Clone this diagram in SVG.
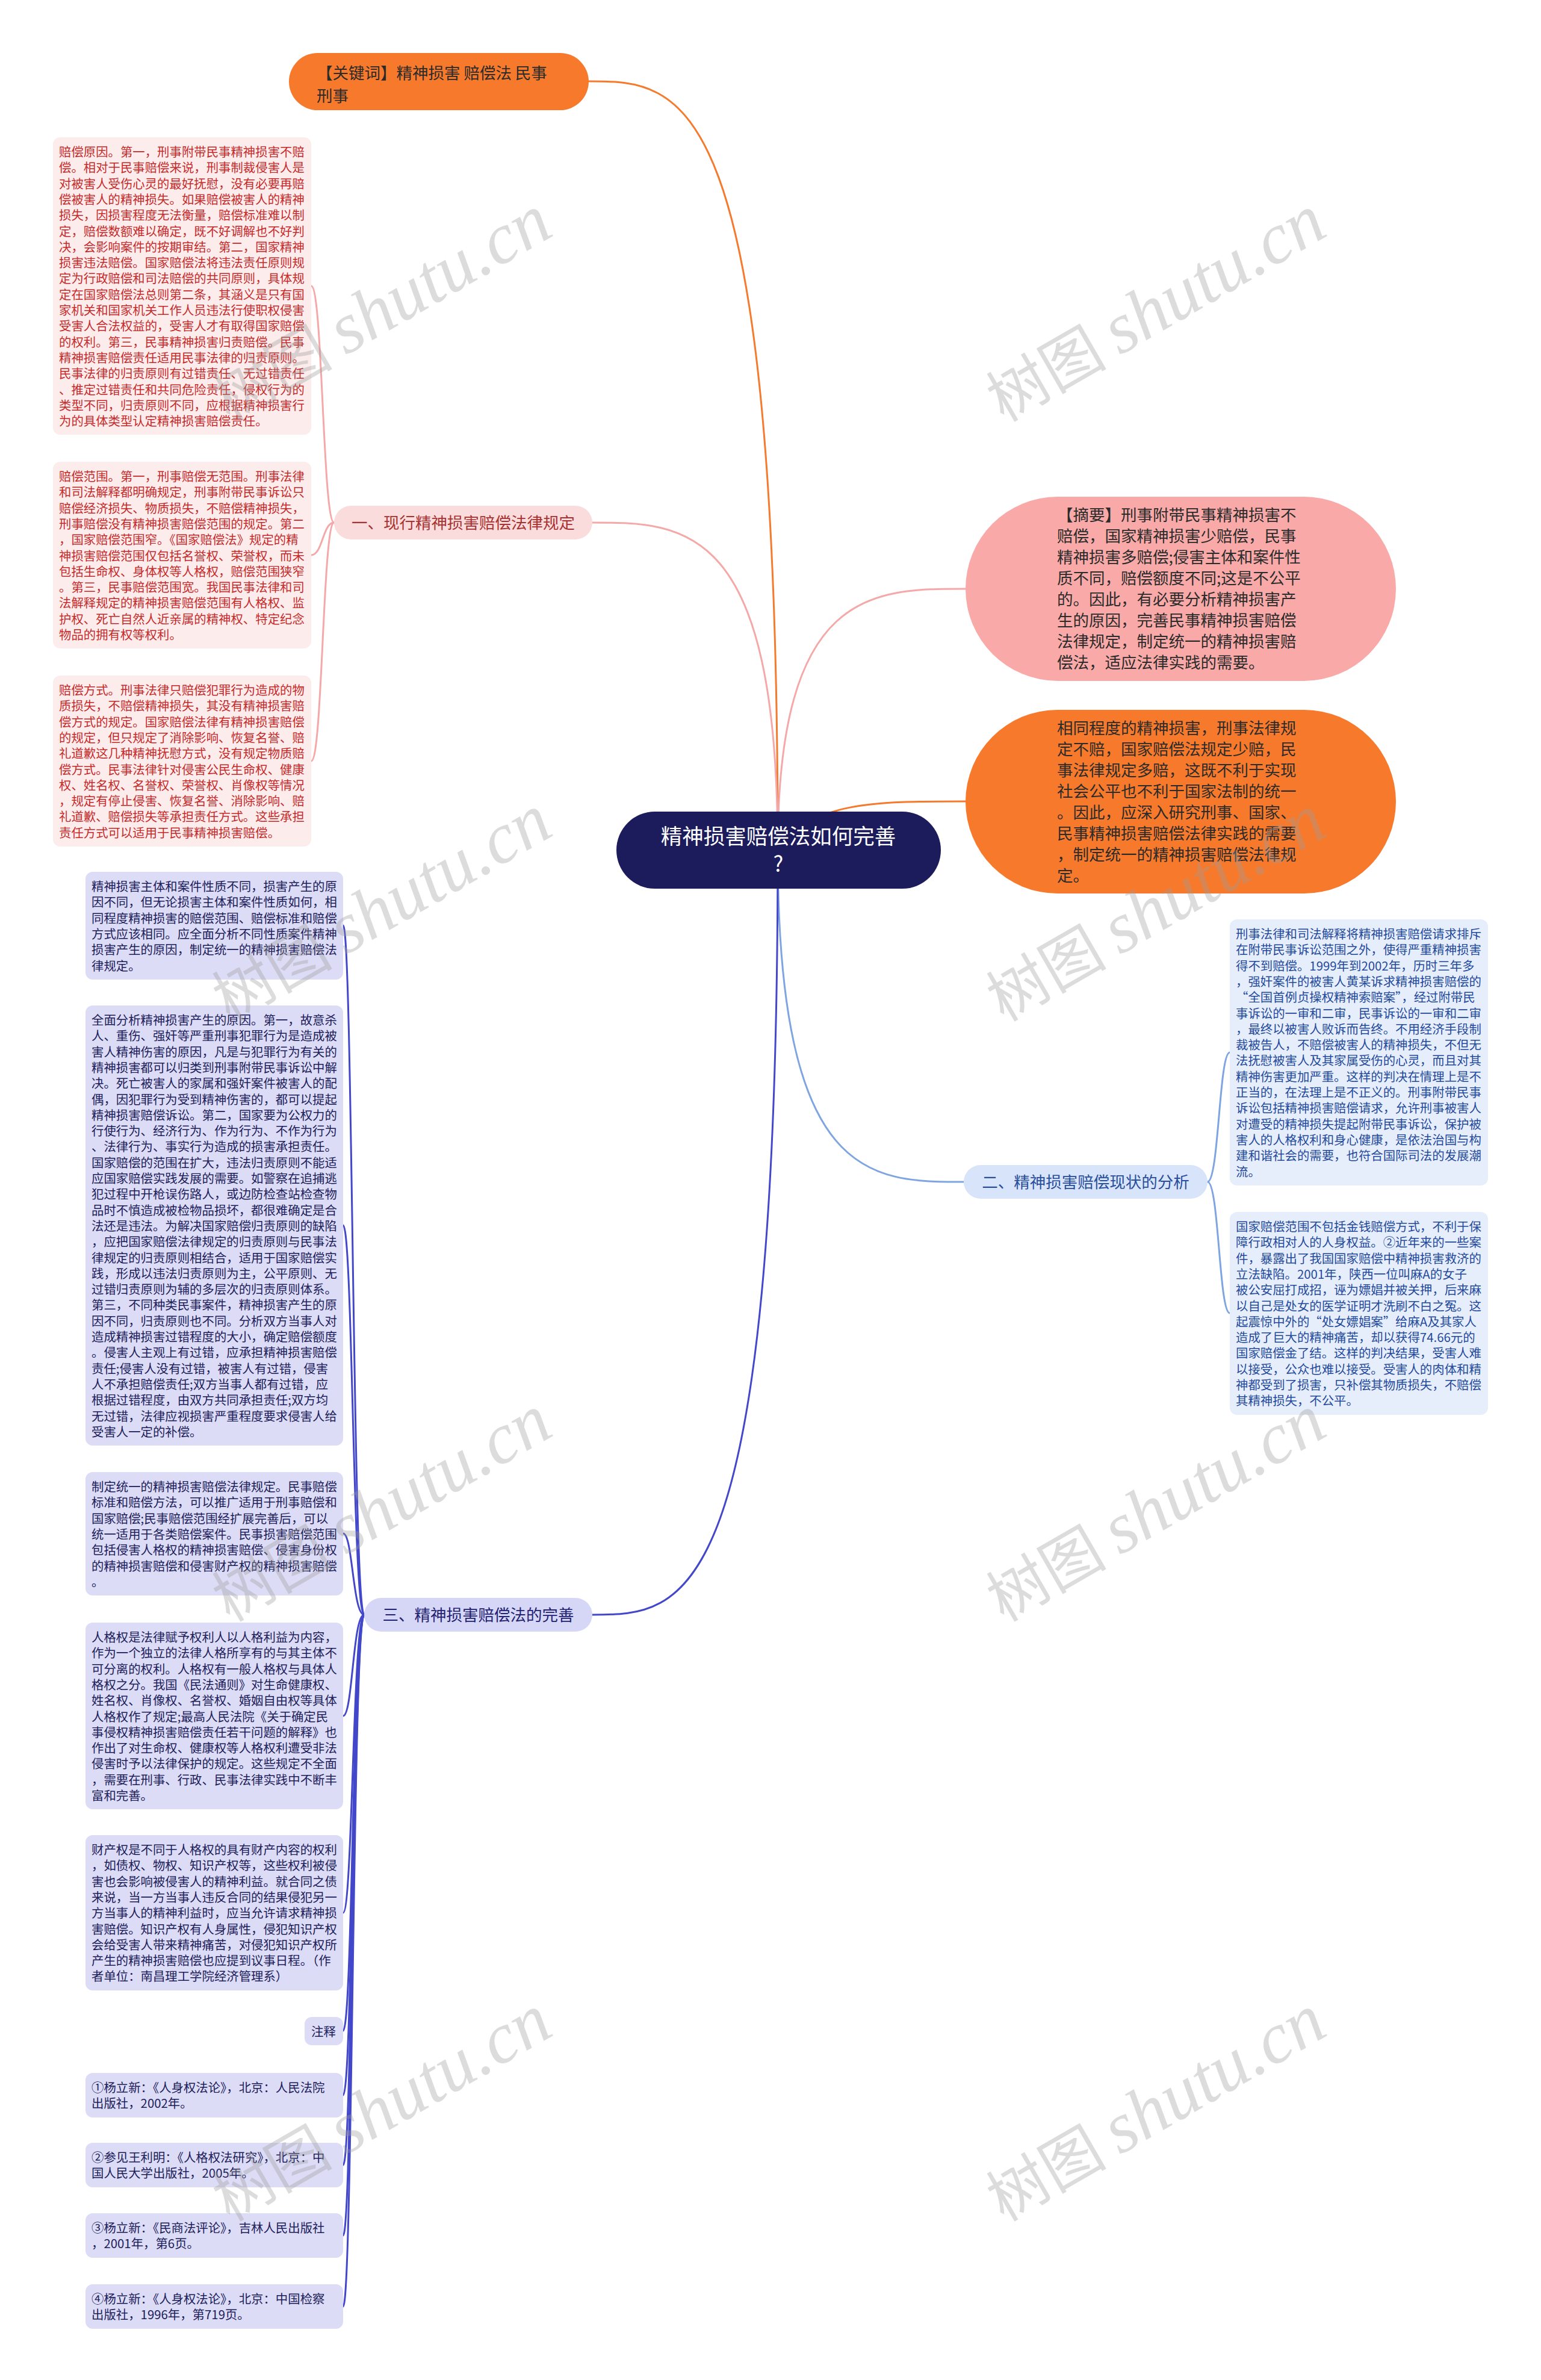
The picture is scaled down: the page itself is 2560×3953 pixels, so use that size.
<svg xmlns="http://www.w3.org/2000/svg" width="2560" height="3953" viewBox="0 0 2560 3953">
<style>
text{font-family:"Noto Sans CJK SC","Noto Sans",sans-serif}
.big{font-size:26.5px;fill:#2b2b2b}
.ctr{font-size:35.5px;fill:#ffffff;text-anchor:middle}
.b1t{font-size:26.5px;fill:#a83232;text-anchor:middle}
.b2t{font-size:26.5px;fill:#2a4f9a;text-anchor:middle}
.b3t{font-size:26.5px;fill:#232372;text-anchor:middle}
.l1{font-size:20.4px;fill:#c62b2b}
.l2{font-size:20.4px;fill:#244a9c}
.l3{font-size:20.4px;fill:#20205a}
.bx1{fill:#fcecec}
.bx2{fill:#e7eefb}
.bx3{fill:#dcdcf6}
.c{fill:none;stroke-width:3;stroke-linecap:round}
.wm{font-size:100px;fill:#9a9a9a;fill-opacity:0.35}
.wl{font-family:"Liberation Serif",serif;font-style:italic;font-size:120px}
</style>
<rect x="0" y="0" width="2560" height="3953" fill="#ffffff"/>

<g id="connectors">
<path class="c" stroke="#f47a2d" d="M1292 1412 C1292 135 1135 135 978 135"/>
<path class="c" stroke="#f4a8a8" d="M1292 1412 C1292 868 1138 868 984 868"/>
<path class="c" stroke="#f4a8a8" d="M1292 1412 C1292 978 1448 978 1604 978"/>
<path class="c" stroke="#f47a2d" d="M1292 1412 C1350 1331 1450 1331 1604 1331"/>
<path class="c" stroke="#7ea5e2" d="M1292 1412 C1292 1963 1446 1963 1601 1963"/>
<path class="c" stroke="#4347c9" d="M1292 1412 C1292 2682 1138 2682 984 2682"/>
<path class="c" stroke="#f4a8a8" d="M555 868 C536 868 536 475 517 475"/>
<path class="c" stroke="#f4a8a8" d="M555 868 C536 868 536 922 517 922"/>
<path class="c" stroke="#f4a8a8" d="M555 868 C536 868 536 1264 517 1264"/>
<path class="c" stroke="#7ea5e2" d="M2006 1963 C2025 1963 2025 1748 2043 1748"/>
<path class="c" stroke="#7ea5e2" d="M2006 1963 C2025 1963 2025 2181 2043 2181"/>
<path class="c" stroke="#4347c9" d="M605 2682 C586 2682 586 1537 570 1537"/>
<path class="c" stroke="#4347c9" d="M605 2682 C586 2682 586 2035 570 2035"/>
<path class="c" stroke="#4347c9" d="M605 2682 C586 2682 586 2547 570 2547"/>
<path class="c" stroke="#4347c9" d="M605 2682 C586 2682 586 2850 570 2850"/>
<path class="c" stroke="#4347c9" d="M605 2682 C586 2682 586 3177 570 3177"/>
<path class="c" stroke="#4347c9" d="M605 2682 C586 2682 586 3373 570 3373"/>
<path class="c" stroke="#4347c9" d="M605 2682 C586 2682 586 3480 570 3480"/>
<path class="c" stroke="#4347c9" d="M605 2682 C586 2682 586 3596 570 3596"/>
<path class="c" stroke="#4347c9" d="M605 2682 C586 2682 586 3713 570 3713"/>
<path class="c" stroke="#4347c9" d="M605 2682 C586 2682 586 3831 570 3831"/>
</g>

<g id="center">
<rect x="1024" y="1348" width="539" height="128" rx="64" fill="#1c1b5c"/>
<text class="ctr" x="1293" y="1402">精神损害赔偿法如何完善</text>
<text class="ctr" x="1293" y="1448">?</text>
</g>

<g id="keyword">
<rect x="480" y="88" width="498" height="95" rx="47.5" fill="#f77a2c"/>
<text class="big" x="526" y="131">【关键词】精神损害 赔偿法 民事</text>
<text class="big" x="526" y="169">刑事</text>
</g>

<g id="abstract">
<rect x="1604" y="825" width="715" height="306" rx="153" fill="#f9aaa8"/>
<text class="big" x="1756">
<tspan x="1756" y="865">【摘要】刑事附带民事精神损害不</tspan>
<tspan x="1756" y="900">赔偿，国家精神损害少赔偿，民事</tspan>
<tspan x="1756" y="935">精神损害多赔偿;侵害主体和案件性</tspan>
<tspan x="1756" y="970">质不同，赔偿额度不同;这是不公平</tspan>
<tspan x="1756" y="1005">的。因此，有必要分析精神损害产</tspan>
<tspan x="1756" y="1040">生的原因，完善民事精神损害赔偿</tspan>
<tspan x="1756" y="1075">法律规定，制定统一的精神损害赔</tspan>
<tspan x="1756" y="1110">偿法，适应法律实践的需要。</tspan>
</text>
</g>

<g id="summary">
<rect x="1604" y="1179" width="715" height="305" rx="152.5" fill="#f77a2c"/>
<text class="big" x="1756">
<tspan x="1756" y="1219">相同程度的精神损害，刑事法律规</tspan>
<tspan x="1756" y="1254">定不赔，国家赔偿法规定少赔，民</tspan>
<tspan x="1756" y="1289">事法律规定多赔，这既不利于实现</tspan>
<tspan x="1756" y="1324">社会公平也不利于国家法制的统一</tspan>
<tspan x="1756" y="1359">。因此，应深入研究刑事、国家、</tspan>
<tspan x="1756" y="1394">民事精神损害赔偿法律实践的需要</tspan>
<tspan x="1756" y="1429">，制定统一的精神损害赔偿法律规</tspan>
<tspan x="1756" y="1464">定。</tspan>
</text>
</g>

<g id="branch1">
<rect x="555" y="840" width="429" height="56" rx="28" fill="#fbdcdc"/>
<text class="b1t" x="769.5" y="878">一、现行精神损害赔偿法律规定</text>
</g>

<g id="leaf1-1">
<rect class="bx1" x="88" y="228" width="429" height="494" rx="12"/>
<text class="l1">
<tspan x="98" y="260">赔偿原因。第一，刑事附带民事精神损害不赔</tspan>
<tspan x="98" y="286.3">偿。相对于民事赔偿来说，刑事制裁侵害人是</tspan>
<tspan x="98" y="312.6">对被害人受伤心灵的最好抚慰，没有必要再赔</tspan>
<tspan x="98" y="338.9">偿被害人的精神损失。如果赔偿被害人的精神</tspan>
<tspan x="98" y="365.2">损失，因损害程度无法衡量，赔偿标准难以制</tspan>
<tspan x="98" y="391.5">定，赔偿数额难以确定，既不好调解也不好判</tspan>
<tspan x="98" y="417.8">决，会影响案件的按期审结。第二，国家精神</tspan>
<tspan x="98" y="444.1">损害违法赔偿。国家赔偿法将违法责任原则规</tspan>
<tspan x="98" y="470.4">定为行政赔偿和司法赔偿的共同原则，具体规</tspan>
<tspan x="98" y="496.7">定在国家赔偿法总则第二条，其涵义是只有国</tspan>
<tspan x="98" y="523">家机关和国家机关工作人员违法行使职权侵害</tspan>
<tspan x="98" y="549.3">受害人合法权益的，受害人才有取得国家赔偿</tspan>
<tspan x="98" y="575.6">的权利。第三，民事精神损害归责赔偿。民事</tspan>
<tspan x="98" y="601.9">精神损害赔偿责任适用民事法律的归责原则。</tspan>
<tspan x="98" y="628.2">民事法律的归责原则有过错责任、无过错责任</tspan>
<tspan x="98" y="654.5">、推定过错责任和共同危险责任，侵权行为的</tspan>
<tspan x="98" y="680.8">类型不同，归责原则不同，应根据精神损害行</tspan>
<tspan x="98" y="707.1">为的具体类型认定精神损害赔偿责任。</tspan>
</text>
</g>

<g id="leaf1-2">
<rect class="bx1" x="88" y="767" width="429" height="310" rx="12"/>
<text class="l1">
<tspan x="98" y="799">赔偿范围。第一，刑事赔偿无范围。刑事法律</tspan>
<tspan x="98" y="825.3">和司法解释都明确规定，刑事附带民事诉讼只</tspan>
<tspan x="98" y="851.6">赔偿经济损失、物质损失，不赔偿精神损失，</tspan>
<tspan x="98" y="877.9">刑事赔偿没有精神损害赔偿范围的规定。第二</tspan>
<tspan x="98" y="904.2">，国家赔偿范围窄。《国家赔偿法》规定的精</tspan>
<tspan x="98" y="930.5">神损害赔偿范围仅包括名誉权、荣誉权，而未</tspan>
<tspan x="98" y="956.8">包括生命权、身体权等人格权，赔偿范围狭窄</tspan>
<tspan x="98" y="983.1">。第三，民事赔偿范围宽。我国民事法律和司</tspan>
<tspan x="98" y="1009.4">法解释规定的精神损害赔偿范围有人格权、监</tspan>
<tspan x="98" y="1035.7">护权、死亡自然人近亲属的精神权、特定纪念</tspan>
<tspan x="98" y="1062">物品的拥有权等权利。</tspan>
</text>
</g>

<g id="leaf1-3">
<rect class="bx1" x="88" y="1122" width="429" height="284" rx="12"/>
<text class="l1">
<tspan x="98" y="1154">赔偿方式。刑事法律只赔偿犯罪行为造成的物</tspan>
<tspan x="98" y="1180.3">质损失，不赔偿精神损失，其没有精神损害赔</tspan>
<tspan x="98" y="1206.6">偿方式的规定。国家赔偿法律有精神损害赔偿</tspan>
<tspan x="98" y="1232.9">的规定，但只规定了消除影响、恢复名誉、赔</tspan>
<tspan x="98" y="1259.2">礼道歉这几种精神抚慰方式，没有规定物质赔</tspan>
<tspan x="98" y="1285.5">偿方式。民事法律针对侵害公民生命权、健康</tspan>
<tspan x="98" y="1311.8">权、姓名权、名誉权、荣誉权、肖像权等情况</tspan>
<tspan x="98" y="1338.1">，规定有停止侵害、恢复名誉、消除影响、赔</tspan>
<tspan x="98" y="1364.4">礼道歉、赔偿损失等承担责任方式。这些承担</tspan>
<tspan x="98" y="1390.7">责任方式可以适用于民事精神损害赔偿。</tspan>
</text>
</g>

<g id="branch2">
<rect x="1601" y="1935" width="405" height="56" rx="28" fill="#d8e4fa"/>
<text class="b2t" x="1803.5" y="1973">二、精神损害赔偿现状的分析</text>
</g>

<g id="leaf2-1">
<rect class="bx2" x="2043" y="1527" width="429" height="442" rx="12"/>
<text class="l2">
<tspan x="2053" y="1559">刑事法律和司法解释将精神损害赔偿请求排斥</tspan>
<tspan x="2053" y="1585.3">在附带民事诉讼范围之外，使得严重精神损害</tspan>
<tspan x="2053" y="1611.6">得不到赔偿。1999年到2002年，历时三年多</tspan>
<tspan x="2053" y="1637.9">，强奸案件的被害人黄某诉求精神损害赔偿的</tspan>
<tspan x="2053" y="1664.2">“全国首例贞操权精神索赔案”，经过附带民</tspan>
<tspan x="2053" y="1690.5">事诉讼的一审和二审，民事诉讼的一审和二审</tspan>
<tspan x="2053" y="1716.8">，最终以被害人败诉而告终。不用经济手段制</tspan>
<tspan x="2053" y="1743.1">裁被告人，不赔偿被害人的精神损失，不但无</tspan>
<tspan x="2053" y="1769.4">法抚慰被害人及其家属受伤的心灵，而且对其</tspan>
<tspan x="2053" y="1795.7">精神伤害更加严重。这样的判决在情理上是不</tspan>
<tspan x="2053" y="1822">正当的，在法理上是不正义的。刑事附带民事</tspan>
<tspan x="2053" y="1848.3">诉讼包括精神损害赔偿请求，允许刑事被害人</tspan>
<tspan x="2053" y="1874.6">对遭受的精神损失提起附带民事诉讼，保护被</tspan>
<tspan x="2053" y="1900.9">害人的人格权利和身心健康，是依法治国与构</tspan>
<tspan x="2053" y="1927.2">建和谐社会的需要，也符合国际司法的发展潮</tspan>
<tspan x="2053" y="1953.5">流。</tspan>
</text>
</g>

<g id="leaf2-2">
<rect class="bx2" x="2043" y="2013" width="429" height="337" rx="12"/>
<text class="l2">
<tspan x="2053" y="2045">国家赔偿范围不包括金钱赔偿方式，不利于保</tspan>
<tspan x="2053" y="2071.3">障行政相对人的人身权益。②近年来的一些案</tspan>
<tspan x="2053" y="2097.6">件，暴露出了我国国家赔偿中精神损害救济的</tspan>
<tspan x="2053" y="2123.9">立法缺陷。2001年，陕西一位叫麻A的女子</tspan>
<tspan x="2053" y="2150.2">被公安屈打成招，诬为嫖娼并被关押，后来麻</tspan>
<tspan x="2053" y="2176.5">以自己是处女的医学证明才洗刷不白之冤。这</tspan>
<tspan x="2053" y="2202.8">起震惊中外的“处女嫖娼案”给麻A及其家人</tspan>
<tspan x="2053" y="2229.1">造成了巨大的精神痛苦，却以获得74.66元的</tspan>
<tspan x="2053" y="2255.4">国家赔偿金了结。这样的判决结果，受害人难</tspan>
<tspan x="2053" y="2281.7">以接受，公众也难以接受。受害人的肉体和精</tspan>
<tspan x="2053" y="2308">神都受到了损害，只补偿其物质损失，不赔偿</tspan>
<tspan x="2053" y="2334.3">其精神损失，不公平。</tspan>
</text>
</g>

<g id="branch3">
<rect x="605" y="2654" width="379" height="56" rx="28" fill="#d6d7f6"/>
<text class="b3t" x="794.5" y="2692">三、精神损害赔偿法的完善</text>
</g>

<g id="leaf3-1">
<rect class="bx3" x="142" y="1448" width="428" height="179" rx="12"/>
<text class="l3">
<tspan x="152" y="1480">精神损害主体和案件性质不同，损害产生的原</tspan>
<tspan x="152" y="1506.3">因不同，但无论损害主体和案件性质如何，相</tspan>
<tspan x="152" y="1532.6">同程度精神损害的赔偿范围、赔偿标准和赔偿</tspan>
<tspan x="152" y="1558.9">方式应该相同。应全面分析不同性质案件精神</tspan>
<tspan x="152" y="1585.2">损害产生的原因，制定统一的精神损害赔偿法</tspan>
<tspan x="152" y="1611.5">律规定。</tspan>
</text>
</g>

<g id="leaf3-2">
<rect class="bx3" x="142" y="1670" width="428" height="731" rx="12"/>
<text class="l3">
<tspan x="152" y="1702">全面分析精神损害产生的原因。第一，故意杀</tspan>
<tspan x="152" y="1728.3">人、重伤、强奸等严重刑事犯罪行为是造成被</tspan>
<tspan x="152" y="1754.6">害人精神伤害的原因，凡是与犯罪行为有关的</tspan>
<tspan x="152" y="1780.9">精神损害都可以归类到刑事附带民事诉讼中解</tspan>
<tspan x="152" y="1807.2">决。死亡被害人的家属和强奸案件被害人的配</tspan>
<tspan x="152" y="1833.5">偶，因犯罪行为受到精神伤害的，都可以提起</tspan>
<tspan x="152" y="1859.8">精神损害赔偿诉讼。第二，国家要为公权力的</tspan>
<tspan x="152" y="1886.1">行使行为、经济行为、作为行为、不作为行为</tspan>
<tspan x="152" y="1912.4">、法律行为、事实行为造成的损害承担责任。</tspan>
<tspan x="152" y="1938.7">国家赔偿的范围在扩大，违法归责原则不能适</tspan>
<tspan x="152" y="1965">应国家赔偿实践发展的需要。如警察在追捕逃</tspan>
<tspan x="152" y="1991.3">犯过程中开枪误伤路人，或边防检查站检查物</tspan>
<tspan x="152" y="2017.6">品时不慎造成被检物品损坏，都很难确定是合</tspan>
<tspan x="152" y="2043.9">法还是违法。为解决国家赔偿归责原则的缺陷</tspan>
<tspan x="152" y="2070.2">，应把国家赔偿法律规定的归责原则与民事法</tspan>
<tspan x="152" y="2096.5">律规定的归责原则相结合，适用于国家赔偿实</tspan>
<tspan x="152" y="2122.8">践，形成以违法归责原则为主，公平原则、无</tspan>
<tspan x="152" y="2149.1">过错归责原则为辅的多层次的归责原则体系。</tspan>
<tspan x="152" y="2175.4">第三，不同种类民事案件，精神损害产生的原</tspan>
<tspan x="152" y="2201.7">因不同，归责原则也不同。分析双方当事人对</tspan>
<tspan x="152" y="2228">造成精神损害过错程度的大小，确定赔偿额度</tspan>
<tspan x="152" y="2254.3">。侵害人主观上有过错，应承担精神损害赔偿</tspan>
<tspan x="152" y="2280.6">责任;侵害人没有过错，被害人有过错，侵害</tspan>
<tspan x="152" y="2306.9">人不承担赔偿责任;双方当事人都有过错，应</tspan>
<tspan x="152" y="2333.2">根据过错程度，由双方共同承担责任;双方均</tspan>
<tspan x="152" y="2359.5">无过错，法律应视损害严重程度要求侵害人给</tspan>
<tspan x="152" y="2385.8">受害人一定的补偿。</tspan>
</text>
</g>

<g id="leaf3-3">
<rect class="bx3" x="142" y="2445" width="428" height="205" rx="12"/>
<text class="l3">
<tspan x="152" y="2477">制定统一的精神损害赔偿法律规定。民事赔偿</tspan>
<tspan x="152" y="2503.3">标准和赔偿方法，可以推广适用于刑事赔偿和</tspan>
<tspan x="152" y="2529.6">国家赔偿;民事赔偿范围经扩展完善后，可以</tspan>
<tspan x="152" y="2555.9">统一适用于各类赔偿案件。民事损害赔偿范围</tspan>
<tspan x="152" y="2582.2">包括侵害人格权的精神损害赔偿、侵害身份权</tspan>
<tspan x="152" y="2608.5">的精神损害赔偿和侵害财产权的精神损害赔偿</tspan>
<tspan x="152" y="2634.8">。</tspan>
</text>
</g>

<g id="leaf3-4">
<rect class="bx3" x="142" y="2695" width="428" height="310" rx="12"/>
<text class="l3">
<tspan x="152" y="2727">人格权是法律赋予权利人以人格利益为内容，</tspan>
<tspan x="152" y="2753.3">作为一个独立的法律人格所享有的与其主体不</tspan>
<tspan x="152" y="2779.6">可分离的权利。人格权有一般人格权与具体人</tspan>
<tspan x="152" y="2805.9">格权之分。我国《民法通则》对生命健康权、</tspan>
<tspan x="152" y="2832.2">姓名权、肖像权、名誉权、婚姻自由权等具体</tspan>
<tspan x="152" y="2858.5">人格权作了规定;最高人民法院《关于确定民</tspan>
<tspan x="152" y="2884.8">事侵权精神损害赔偿责任若干问题的解释》也</tspan>
<tspan x="152" y="2911.1">作出了对生命权、健康权等人格权利遭受非法</tspan>
<tspan x="152" y="2937.4">侵害时予以法律保护的规定。这些规定不全面</tspan>
<tspan x="152" y="2963.7">，需要在刑事、行政、民事法律实践中不断丰</tspan>
<tspan x="152" y="2990">富和完善。</tspan>
</text>
</g>

<g id="leaf3-5">
<rect class="bx3" x="142" y="3048" width="428" height="258" rx="12"/>
<text class="l3">
<tspan x="152" y="3080">财产权是不同于人格权的具有财产内容的权利</tspan>
<tspan x="152" y="3106.3">，如债权、物权、知识产权等，这些权利被侵</tspan>
<tspan x="152" y="3132.6">害也会影响被侵害人的精神利益。就合同之债</tspan>
<tspan x="152" y="3158.9">来说，当一方当事人违反合同的结果侵犯另一</tspan>
<tspan x="152" y="3185.2">方当事人的精神利益时，应当允许请求精神损</tspan>
<tspan x="152" y="3211.5">害赔偿。知识产权有人身属性，侵犯知识产权</tspan>
<tspan x="152" y="3237.8">会给受害人带来精神痛苦，对侵犯知识产权所</tspan>
<tspan x="152" y="3264.1">产生的精神损害赔偿也应提到议事日程。（作</tspan>
<tspan x="152" y="3290.4">者单位：南昌理工学院经济管理系）</tspan>
</text>
</g>

<g id="notes">
<rect class="bx3" x="506" y="3350" width="64" height="47" rx="12"/>
<text class="l3" x="517" y="3382">注释</text>
</g>

<g id="ref1">
<rect class="bx3" x="142" y="3443" width="428" height="74" rx="12"/>
<text class="l3"><tspan x="152" y="3475">①杨立新：《人身权法论》，北京：人民法院</tspan><tspan x="152" y="3501.3">出版社，2002年。</tspan></text>
</g>
<g id="ref2">
<rect class="bx3" x="142" y="3559" width="428" height="74" rx="12"/>
<text class="l3"><tspan x="152" y="3591">②参见王利明：《人格权法研究》，北京：中</tspan><tspan x="152" y="3617.3">国人民大学出版社，2005年。</tspan></text>
</g>
<g id="ref3">
<rect class="bx3" x="142" y="3676" width="428" height="74" rx="12"/>
<text class="l3"><tspan x="152" y="3708">③杨立新：《民商法评论》，吉林人民出版社</tspan><tspan x="152" y="3734.3">，2001年，第6页。</tspan></text>
</g>
<g id="ref4">
<rect class="bx3" x="142" y="3794" width="428" height="74" rx="12"/>
<text class="l3"><tspan x="152" y="3826">④杨立新：《人身权法论》，北京：中国检察</tspan><tspan x="152" y="3852.3">出版社，1996年，第719页。</tspan></text>
</g>

<g id="watermarks">
<text class="wm" x="636" y="550" text-anchor="middle" transform="rotate(-30 636 517)">树图 <tspan class="wl">shutu.cn</tspan></text>
<text class="wm" x="1922" y="550" text-anchor="middle" transform="rotate(-30 1922 517)">树图 <tspan class="wl">shutu.cn</tspan></text>
<text class="wm" x="636" y="1546" text-anchor="middle" transform="rotate(-30 636 1513)">树图 <tspan class="wl">shutu.cn</tspan></text>
<text class="wm" x="1922" y="1546" text-anchor="middle" transform="rotate(-30 1922 1513)">树图 <tspan class="wl">shutu.cn</tspan></text>
<text class="wm" x="636" y="2543" text-anchor="middle" transform="rotate(-30 636 2510)">树图 <tspan class="wl">shutu.cn</tspan></text>
<text class="wm" x="1922" y="2543" text-anchor="middle" transform="rotate(-30 1922 2510)">树图 <tspan class="wl">shutu.cn</tspan></text>
<text class="wm" x="636" y="3539" text-anchor="middle" transform="rotate(-30 636 3506)">树图 <tspan class="wl">shutu.cn</tspan></text>
<text class="wm" x="1922" y="3539" text-anchor="middle" transform="rotate(-30 1922 3506)">树图 <tspan class="wl">shutu.cn</tspan></text>
</g>
</svg>
